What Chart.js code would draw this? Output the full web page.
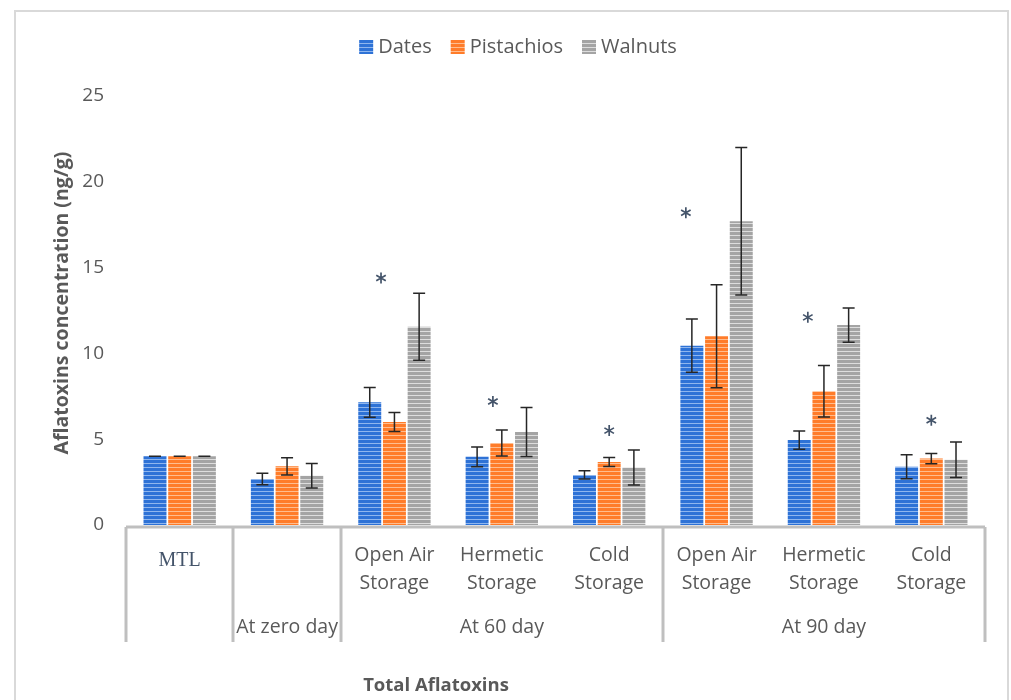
<!DOCTYPE html>
<html>
<head>
<meta charset="utf-8">
<title>Total Aflatoxins</title>
<script src="https://cdn.jsdelivr.net/npm/chart.js@4.4.1/dist/chart.umd.min.js"></script>
<style>
    html, body { margin: 0; padding: 0; background: #ffffff; }
    canvas { display: block; }
</style>
</head>
<body>
<canvas id="aflaChart" width="1011" height="700"></canvas>
<script>
// categories (bottom row of the axis) and the groups they belong to
const subLabels = [['MTL'], [], ['Open Air', 'Storage'], ['Hermetic', 'Storage'], ['Cold', 'Storage'],
                   ['Open Air', 'Storage'], ['Hermetic', 'Storage'], ['Cold', 'Storage']];
const groupLabels = ['', 'At zero day', 'At 60 day', 'At 90 day'];
const groupFirst = [0, 1, 2, 5];
const groupLast = [0, 1, 4, 7];

const seriesNames = ['Dates', 'Pistachios', 'Walnuts'];
const dates = [4, 2.68, 7.15, 3.97, 2.92, 10.45, 4.95, 3.4];
const datesErr = [0, 0.34, 0.87, 0.58, 0.24, 1.55, 0.53, 0.7];
const pistachios = [4, 3.42, 6.0, 4.78, 3.67, 11.0, 7.8, 3.87];
const pistachiosErr = [0, 0.5, 0.55, 0.76, 0.26, 3.0, 1.5, 0.3];
const walnuts = [4, 2.87, 11.55, 5.42, 3.35, 17.7, 11.65, 3.8];
const walnutsErr = [0, 0.71, 1.95, 1.43, 1.02, 4.3, 1.0, 1.03];

// significance marks (value where the * sits, per category)
const starValues = [null, null, 14.4, 7.2, 5.5, 18.2, 12.1, 6.1];

const yTicks = [0, 5, 10, 15, 20, 25];

const FONT = '"Open Sans", "Noto Sans", sans-serif';
const TEXT = '#595959';
const AXIS = '#bfbfbf';

function stripes(dark, light) {
    const c = document.createElement('canvas');
    c.width = 4;
    c.height = 4;
    const g = c.getContext('2d');
    g.fillStyle = dark;
    g.fillRect(0, 0, 4, 4);
    g.fillStyle = light;
    g.fillRect(0, 3, 4, 1);
    return g.createPattern(c, 'repeat');
}

const ctx = document.getElementById('aflaChart').getContext('2d');
const fills = [
    stripes('#2e72d6', '#8fb6ee'),
    stripes('#ff7c2a', '#ffbd8f'),
    stripes('#a4a4a4', '#dddddd')
];
const errors = [datesErr, pistachiosErr, walnutsErr];
// horizontal shift of each * from the category centre, in category widths
const starShift = [0, 0, -0.125, -0.083, 0, -0.286, -0.15, 0];

const frame = {
    id: 'frame',
    beforeDraw(chart) {
        const c = chart.ctx;
        c.save();
        c.strokeStyle = '#d9d9d9';
        c.lineWidth = 2;
        c.beginPath();
        c.moveTo(15, 705);
        c.lineTo(15, 11);
        c.lineTo(1008, 11);
        c.lineTo(1008, 705);
        c.stroke();
        c.restore();
    }
};

const errorBars = {
    id: 'errorBars',
    afterDatasetsDraw(chart) {
        const c = chart.ctx;
        const y = chart.scales.y;
        c.save();
        c.strokeStyle = '#262626';
        c.lineWidth = 1.5;
        chart.data.datasets.forEach((ds, di) => {
            const meta = chart.getDatasetMeta(di);
            meta.data.forEach((bar, i) => {
                const v = ds.data[i];
                const e = errors[di][i];
                const top = y.getPixelForValue(v + e);
                const bot = y.getPixelForValue(v - e);
                c.beginPath();
                c.moveTo(bar.x, top);
                c.lineTo(bar.x, bot);
                c.moveTo(bar.x - 6, top);
                c.lineTo(bar.x + 6, top);
                c.moveTo(bar.x - 6, bot);
                c.lineTo(bar.x + 6, bot);
                c.stroke();
            });
        });

        // asterisks
        const x = chart.scales.x;
        const w = x.getPixelForValue(1) - x.getPixelForValue(0);
        c.strokeStyle = '#44546a';
        c.lineWidth = 1.7;
        starValues.forEach((v, i) => {
            if (v === null) return;
            const cx = x.getPixelForValue(i) + starShift[i] * w;
            const cy = y.getPixelForValue(v);
            c.beginPath();
            for (let k = 0; k < 3; k++) {
                const a = Math.PI / 2 + k * Math.PI / 3;
                c.moveTo(cx + Math.cos(a) * 5.5, cy + Math.sin(a) * 5.5);
                c.lineTo(cx - Math.cos(a) * 5.5, cy - Math.sin(a) * 5.5);
            }
            c.stroke();
        });
        c.restore();
    }
};

const categoryAxis = {
    id: 'categoryAxis',
    afterDraw(chart) {
        const c = chart.ctx;
        const x = chart.scales.x;
        const area = chart.chartArea;
        const w = x.getPixelForValue(1) - x.getPixelForValue(0);
        const base = area.bottom + 2;
        const lineEnd = 642;
        c.save();
        c.strokeStyle = AXIS;
        c.lineWidth = 3;
        c.beginPath();
        c.moveTo(area.left, base);
        c.lineTo(area.right, base);
        // group separators
        const edges = new Set();
        groupFirst.forEach((f, g) => {
            edges.add(Math.round(x.getPixelForValue(f) - w / 2));
            edges.add(Math.round(x.getPixelForValue(groupLast[g]) + w / 2));
        });
        edges.forEach(px => {
            c.moveTo(px, base);
            c.lineTo(px, lineEnd);
        });
        c.stroke();

        c.textAlign = 'center';
        c.textBaseline = 'middle';
        subLabels.forEach((lines, i) => {
            const cx = x.getPixelForValue(i);
            if (i === 0) {
                c.font = '20px "Liberation Serif", serif';
                c.fillStyle = '#44546a';
                c.fillText(lines[0], cx, 561);
                return;
            }
            c.font = '19.5px ' + FONT;
            c.fillStyle = TEXT;
            lines.forEach((t, k) => c.fillText(t, cx, 555 + k * 28));
        });
        c.font = '19.5px ' + FONT;
        c.fillStyle = TEXT;
        groupLabels.forEach((t, g) => {
            if (!t) return;
            const cx = (x.getPixelForValue(groupFirst[g]) + x.getPixelForValue(groupLast[g])) / 2;
            c.fillText(t, cx, 627);
        });

        // axis titles
        c.font = 'bold 18.5px ' + FONT;
        c.fillText('Total Aflatoxins', 436, 686);
        c.save();
        c.translate(62, 303);
        c.rotate(-Math.PI / 2);
        c.font = 'bold 19.5px ' + FONT;
        c.fillText('Aflatoxins concentration (ng/g)', 0, 0);
        c.restore();

        // legend
        c.font = '20px ' + FONT;
        c.textAlign = 'left';
        const widths = seriesNames.map(n => c.measureText(n).width);
        const itemW = widths.map(tw => 14 + 5 + tw);
        const total = itemW.reduce((a, b) => a + b, 0) + 19 * (seriesNames.length - 1);
        let lx = 518 - total / 2;
        seriesNames.forEach((n, i) => {
            c.fillStyle = fills[i];
            c.fillRect(lx, 40, 14, 14);
            c.fillStyle = TEXT;
            c.fillText(n, lx + 19, 47);
            lx += itemW[i] + 19;
        });
        c.restore();
    }
};

new Chart(ctx, {
    type: 'bar',
    data: {
        labels: subLabels.map((l, i) => l.join(' ') || 'At zero day'),
        datasets: [
            { label: seriesNames[0], data: dates, backgroundColor: fills[0] },
            { label: seriesNames[1], data: pistachios, backgroundColor: fills[1] },
            { label: seriesNames[2], data: walnuts, backgroundColor: fills[2] }
        ]
    },
    options: {
        responsive: false,
        animation: false,
        layout: { padding: { top: 96, right: 26, bottom: 175, left: 0 } },
        datasets: {
            bar: { categoryPercentage: 0.69, barPercentage: 0.93, borderWidth: 0 }
        },
        plugins: {
            legend: { display: false },
            tooltip: { enabled: false }
        },
        scales: {
            x: {
                display: false
            },
            y: {
                min: 0,
                max: 25,
                afterFit: s => { s.width = 126; },
                afterBuildTicks: s => { s.ticks = yTicks.map(v => ({ value: v })); },
                grid: { display: false },
                border: { display: false },
                ticks: {
                    padding: 14,
                    color: TEXT,
                    font: { family: FONT, size: 19 }
                }
            }
        }
    },
    plugins: [frame, errorBars, categoryAxis]
});
</script>
</body>
</html>
